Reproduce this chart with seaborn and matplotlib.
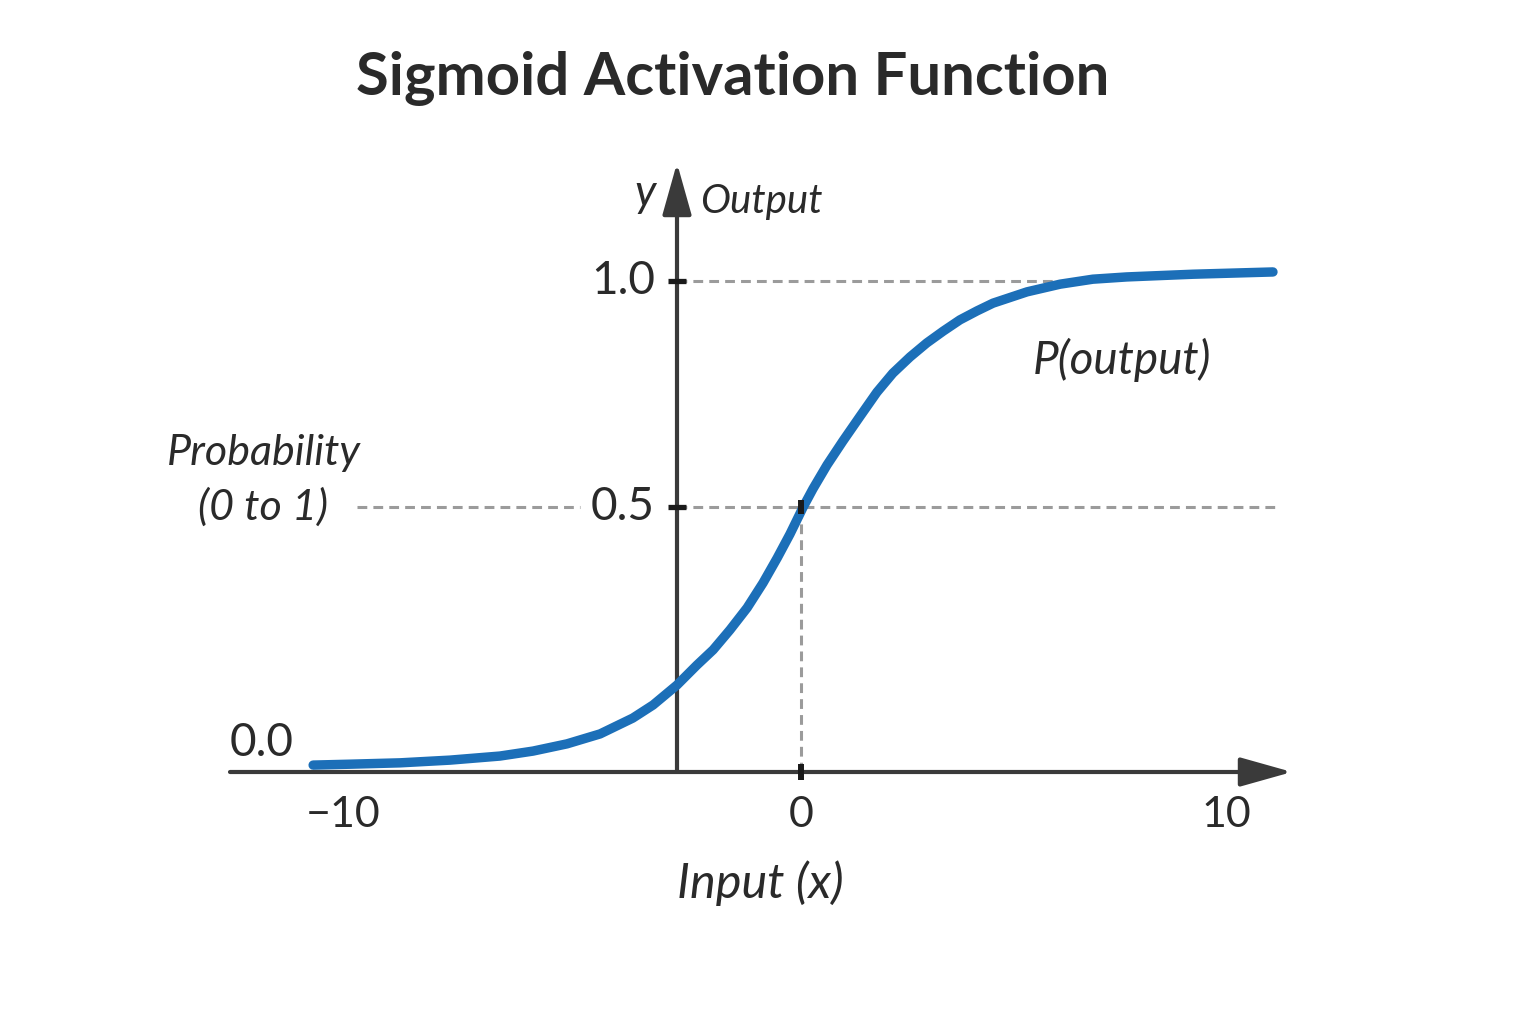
import matplotlib
matplotlib.use("Agg")
import matplotlib.pyplot as plt
import seaborn as sns
import pandas as pd

# chart data
TITLE = "Sigmoid Activation Function"
curve_x = [-11.05, -10.21, -9.08, -7.95, -6.82, -6.07, -5.30, -4.55, -3.81, -3.35,
           -2.81, -2.36, -1.99, -1.61, -1.22, -0.86, -0.54, -0.25, 0.05, 0.27,
           0.59, 0.95, 1.34, 1.72, 2.08, 2.47, 2.85, 3.22, 3.60, 3.99,
           4.35, 5.12, 5.87, 6.61, 7.38, 8.88, 10.69]
curve_y = [-0.071, -0.069, -0.066, -0.060, -0.051, -0.040, -0.024, -0.002, 0.033, 0.062,
           0.106, 0.150, 0.184, 0.228, 0.277, 0.332, 0.387, 0.440, 0.500, 0.540,
           0.593, 0.646, 0.701, 0.754, 0.796, 0.832, 0.863, 0.889, 0.914, 0.934,
           0.951, 0.976, 0.993, 1.004, 1.009, 1.015, 1.020]
x_tick_values = [-10, 0, 10]
x_tick_labels = ["\u221210", "0", "10"]
y_tick_values = [0.0, 0.5, 1.0]
y_tick_labels = ["0.0", "0.5", "1.0"]

# pixel <-> data mapping of the reference layout
PX, X0 = 44.15, 801
PY, Y0 = 452, 733
W, H = 1536, 1024


def px2x(p):
    return (p - X0) / PX


def py2y(p):
    return (Y0 - p) / PY


sns.set_theme(style="white")
plt.rcParams["font.family"] = ["Lato", "DejaVu Sans"]

TEXT = "#2a2a2a"
AXIS = "#3a3a3a"

fig = plt.figure(figsize=(W / 100, H / 100), dpi=100)
ax = fig.add_axes([0, 0, 1, 1])
ax.set_xlim(px2x(0), px2x(W))
ax.set_ylim(py2y(H), py2y(0))
ax.axis("off")

axis_y = py2y(772)   # level of the horizontal axis
axis_x = px2x(677)   # position of the vertical axis

# dashed guides
guide = dict(color="#9b9b9b", lw=2.2, linestyle=(0, (3.2, 2.0)), zorder=1)
ax.plot([axis_x, px2x(1055)], [1.0, 1.0], **guide)
ax.plot([axis_x, px2x(1280)], [0.5, 0.5], **guide)
ax.plot([px2x(357), px2x(580)], [0.5, 0.5], **guide)
ax.plot([0, 0], [axis_y, 0.5], **guide)

# axes with arrow heads
arrow = dict(arrowstyle="-|>,head_length=1.6,head_width=0.45", color=AXIS,
             lw=3.0, shrinkA=0, shrinkB=0, mutation_scale=20)
ax.annotate("", xy=(px2x(1292), axis_y), xytext=(px2x(230), axis_y), arrowprops=arrow)
ax.annotate("", xy=(axis_x, py2y(163)), xytext=(axis_x, axis_y), arrowprops=arrow)

# sigmoid curve
df = pd.DataFrame({"x": curve_x, "y": curve_y})
sns.lineplot(data=df, x="x", y="y", ax=ax, color="#1c6fb8", lw=6.8,
             solid_capstyle="round", solid_joinstyle="round", zorder=3)

# tick marks
ax.plot([axis_x] * 2, [0.5, 1.0], ls="none", marker="_", ms=13, mew=3.8, color="#1a1a1a", zorder=4)
ax.plot([0], [axis_y], ls="none", marker="|", ms=11, mew=4.3, color="#1a1a1a", zorder=4)
ax.plot([0], [0.5], ls="none", marker="|", ms=9.5, mew=4.3, color="#1a1a1a", zorder=4)

# tick labels
for v, lbl in zip(x_tick_values, x_tick_labels):
    dx = 0 if v == 0 else -16
    ax.annotate(lbl, xy=(v, axis_y), xytext=(dx, -43), textcoords="offset pixels",
                ha="center", va="center", fontsize=31, color=TEXT)
for v, lbl in zip(y_tick_values, y_tick_labels):
    if v == 0:
        ax.text(px2x(230), py2y(743), lbl, ha="left", va="center", fontsize=33, color=TEXT)
    else:
        ax.annotate(lbl, xy=(axis_x, v), xytext=(-22, 0), textcoords="offset pixels",
                    ha="right", va="center", fontsize=33, color=TEXT)

# annotations
ax.text(px2x(645), py2y(193), "y", ha="center", va="center", fontsize=32, style="italic", color=TEXT)
ax.text(px2x(700), py2y(202), "Output", ha="left", va="center", fontsize=29, style="italic", color=TEXT)
ax.text(px2x(264), py2y(453), "Probability", ha="center", va="center", fontsize=31, style="italic", color=TEXT)
ax.text(px2x(263), py2y(507), "(0 to 1)", ha="center", va="center", fontsize=31, style="italic", color=TEXT)
ax.text(px2x(1122), py2y(360), "P(output)", ha="center", va="center", fontsize=33, style="italic", color=TEXT)
ax.text(px2x(760), py2y(883), "Input (x)", ha="center", va="center", fontsize=35, style="italic", color=TEXT)

fig.text(733 / W, 1 - 78 / H, TITLE, ha="center", va="center", fontsize=43,
         fontweight="bold", color=TEXT)

fig.savefig("out.png", dpi=100, facecolor="white")
plt.close(fig)
